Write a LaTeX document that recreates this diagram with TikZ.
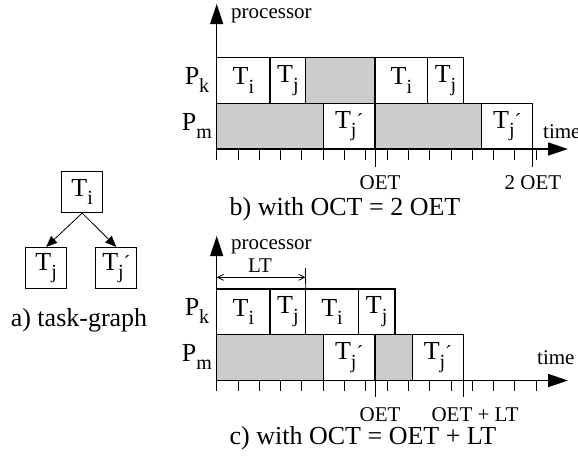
\documentclass[tikz,border=0pt]{standalone}
\usepackage{fontspec}
\setmainfont{Liberation Serif}
\usetikzlibrary{arrows.meta}
\newcommand\subs[1]{\raisebox{-0.32em}{\fontsize{20}{20}\selectfont #1}}
\newcommand\Ti{T\subs{i}}
\newcommand\Tj{T\subs{j}}
\newcommand\Tjp{T\subs{j\raisebox{0.45em}{´}}}
\begin{document}
\begin{tikzpicture}[x=1pt,y=-1pt,
  lbl/.style={inner sep=0pt,font=\fontsize{21}{25}\selectfont},
  plbl/.style={inner sep=0pt,font=\fontsize{26}{30}\selectfont},
  captxt/.style={inner sep=0pt,font=\fontsize{26}{30}\selectfont},
  cell/.style={draw,line width=1.5pt,inner sep=0pt,outer sep=0pt,font=\fontsize{26}{30}\selectfont},
  idle/.style={cell,fill=gray!40},
  taxis/.style={line width=1.5pt,-{Triangle[length=20pt,width=13pt]}},
  tmark/.style={line width=1pt},
  tnode/.style={draw,line width=0.8pt,minimum width=41pt,minimum height=41pt,inner sep=0pt,font=\fontsize{26}{30}\selectfont},
  garrow/.style={line width=0.8pt,-{Triangle[length=11pt,width=9pt]}}]
\useasboundingbox (0,0) rectangle (578,459);
\newcommand\cellbox[7]{\node[#6,minimum width={(#3-#2)*1pt},minimum height={(#5-#4)*1pt}] (#1) at ({(#2+#3)/2},{(#4+#5)/2}) {#7};}
% ---------- a) task graph ----------
\node[tnode] (gi) at (82.2,192.2) {\Ti};
\node[tnode] (gj) at (46.2,267.8) {\Tj};
\node[tnode] (gjp) at (116.3,267.8) {\Tjp};
\draw[garrow] (gi.south) -- (gj.north);
\draw[garrow] (gi.south) -- (gjp.north);
\node[captxt] (capa) at (79,320) {a) task-graph};
% ---------- b) ----------
\coordinate (bo) at (216.7,149);
\coordinate (bx) at (568,149);
\coordinate (by) at (216.7,4);
\cellbox{b1}{216.7}{270}{57.5}{103.5}{cell}{\Ti}
\cellbox{b2}{270}{305.7}{57.5}{103.5}{cell}{\Tj}
\cellbox{b3}{305.7}{375}{57.5}{103.5}{idle}{}
\cellbox{b4}{375}{427.7}{57.5}{103.5}{cell}{\Ti}
\cellbox{b5}{427.7}{463.3}{57.5}{103.5}{cell}{\Tj}
\cellbox{b6}{216.7}{323.3}{103.5}{149}{idle}{}
\cellbox{b7}{323.3}{375}{103.5}{149}{cell}{\Tjp}
\cellbox{b8}{375}{481.7}{103.5}{149}{idle}{}
\cellbox{b9}{481.7}{532.7}{103.5}{149}{cell}{\Tjp}
\foreach \k in {0,...,15} \draw[tmark] ({216.7+21.3*\k},149) -- ++(0,10.5);
\draw[tmark] (375,149) -- (375,166.7);
\draw[tmark] (532.7,149) -- (532.7,166.7);
\draw[taxis] (bo) -- (bx);
\draw[taxis] (bo) -- (by);
\node[lbl,anchor=base west] (bproc) at (231,18) {processor};
\node[plbl] (bpk) at (197,80) {P\subs{k}};
\node[plbl] (bpm) at (197,126) {P\subs{m}};
\node[lbl,anchor=base west] (btime) at (543,138) {time};
\node[lbl,anchor=base] (boet) at (380,189) {OET};
\node[lbl,anchor=base] (b2oet) at (533,189) {2 OET};
\node[captxt] (capb) at (345,209) {b) with OCT = 2 OET};
% ---------- c) ----------
\coordinate (co) at (216.7,380.5);
\coordinate (cx) at (568,380.5);
\coordinate (cy) at (216.7,236);
\cellbox{c1}{216.7}{270}{289}{334.5}{cell}{\Ti}
\cellbox{c2}{270}{305.7}{289}{334.5}{cell}{\Tj}
\cellbox{c3}{305.7}{358.3}{289}{334.5}{cell}{\Ti}
\cellbox{c4}{358.3}{395}{289}{334.5}{cell}{\Tj}
\cellbox{c5}{216.7}{323.3}{334.5}{380.5}{idle}{}
\cellbox{c6}{323.3}{375}{334.5}{380.5}{cell}{\Tjp}
\cellbox{c7}{375}{412.3}{334.5}{380.5}{idle}{}
\cellbox{c8}{412.3}{463.3}{334.5}{380.5}{cell}{\Tjp}
\foreach \k in {0,...,15} \draw[tmark] ({216.7+21.3*\k},380.5) -- ++(0,10.5);
\draw[tmark] (375,380.5) -- (375,397);
\draw[tmark] (463.3,380.5) -- (463.3,397);
\draw[taxis] (co) -- (cx);
\draw[taxis] (co) -- (cy);
\coordinate (ltl) at (216.7,277.3);
\coordinate (ltr) at (305.5,277.3);
\coordinate (ltt) at (305.5,268);
\draw[line width=0.8pt] (ltt) -- (c2.north east);
\draw[line width=0.8pt,{Straight Barb[length=6pt,width=6pt]}-{Straight Barb[length=6pt,width=6pt]}] (ltl) -- (ltr);
\node[lbl,anchor=base] (clt) at (260,272) {LT};
\node[lbl,anchor=base west] (cproc) at (231,249) {processor};
\node[plbl] (cpk) at (197,311) {P\subs{k}};
\node[plbl] (cpm) at (197,357) {P\subs{m}};
\node[lbl,anchor=base west] (ctime) at (537,364) {time};
\node[lbl,anchor=base] (coet) at (380,421) {OET};
\node[lbl,anchor=base] (coetlt) at (475,421) {OET + LT};
\node[captxt] (capc) at (363,438) {c) with OCT = OET + LT};
\end{tikzpicture}
\end{document}
